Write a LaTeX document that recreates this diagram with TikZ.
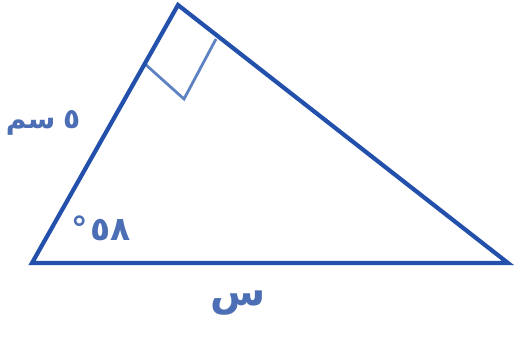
\documentclass[tikz,border=0pt]{standalone}
\usepackage{fontspec}
\newfontfamily\arabicfont[Script=Arabic]{DejaVu Sans}
\TeXXeTstate=1
\definecolor{tri}{RGB}{35,80,170}
\definecolor{mark}{RGB}{95,130,195}
\definecolor{lbl}{RGB}{75,110,180}
\tikzset{side/.style={draw=tri,line width=4.2pt,line join=miter},
  rmark/.style={draw=mark,line width=2.8pt},
  lab/.style={text=lbl,font=\arabicfont\bfseries\fontsize{28}{30}\selectfont,inner sep=0pt}}
\begin{document}
\begin{tikzpicture}[x=1pt,y=-1pt]
\useasboundingbox (0,0) rectangle (531,341);
\coordinate (A) at (32,263);
\coordinate (B) at (178,5);
\coordinate (C) at (508,263);
\coordinate (P) at (145,64);
\coordinate (Q) at (184,99);
\coordinate (R) at (216,39);
\draw[rmark] (P) -- (Q) -- (R);
\draw[side] (A) -- (B) -- (C) -- cycle;
\node[lab] (l1) at (43,123) {\beginR ٥\kern-2pt\ سم\endR};
\node[lab,font=\arabicfont\bfseries\fontsize{33}{35}\selectfont] (l2) at (101,228) {\hbox{°}\kern2pt\hbox{٥٨}};
\node[lab,font=\arabicfont\bfseries\fontsize{40}{42}\selectfont] (l3) at (238,303) {\beginR س\endR};
\end{tikzpicture}
\end{document}
